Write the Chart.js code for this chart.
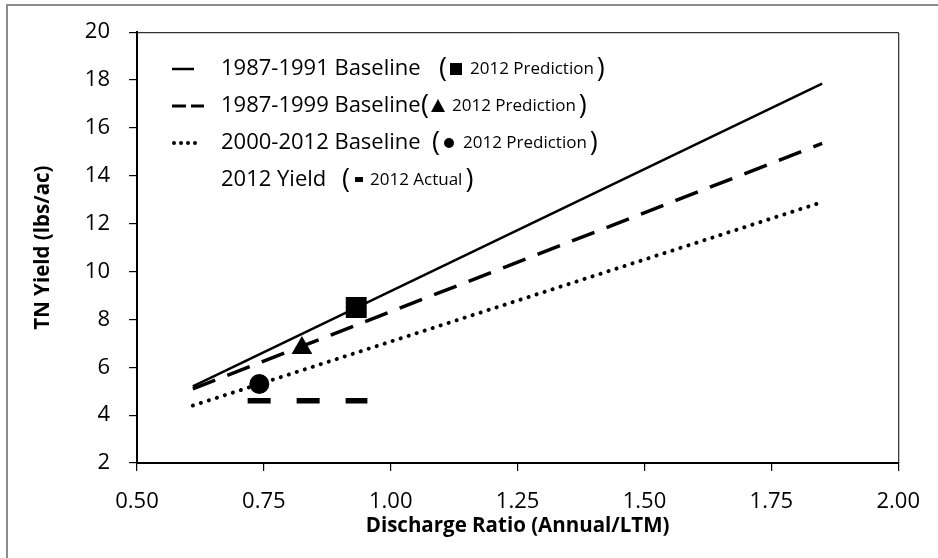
<!DOCTYPE html>
<html>
<head>
<meta charset="utf-8">
<script src="https://cdn.jsdelivr.net/npm/chart.js@4.4.1/dist/chart.umd.min.js"></script>
<style>
  html, body { margin: 0; padding: 0; background: #fff; }
</style>
</head>
<body>
<canvas id="mycanvas" width="938" height="558"></canvas>
<script>
// chart values
var legendNames = ['1987-1991 Baseline', '1987-1999 Baseline', '2000-2012 Baseline', '2012 Yield'];
var legendNotes = ['2012 Prediction', '2012 Prediction', '2012 Prediction', '2012 Actual'];

var baseX = [0.61, 1.85];
var base8791 = [5.2, 17.85];
var base8799 = [5.1, 15.35];
var base0012 = [4.4, 12.9];

var actualX = [0.718, 0.954];
var actualY = [4.6, 4.6];

var predX = [0.932, 0.825, 0.741];
var predY = [8.5, 6.8, 5.3];

var xTicks = [0.5, 0.75, 1.0, 1.25, 1.5, 1.75, 2.0];
var yTicks = [2, 4, 6, 8, 10, 12, 14, 16, 18, 20];

function pts(xs, ys) {
	var out = [];
	for (var i in xs) out.push({x: xs[i], y: ys[i]});
	return out;
}

var FONT = "'Open Sans', 'Liberation Sans', sans-serif";

// frame, plot box and the hand made legend
var decor = {
	id: 'decor',
	beforeDraw: function(chart) {
		var ctx = chart.ctx;
		ctx.save();
		ctx.fillStyle = '#fff';
		ctx.fillRect(0, 0, chart.width, chart.height);
		ctx.strokeStyle = '#8c8c8c';
		ctx.lineWidth = 2;
		ctx.strokeRect(7, 5, 960, 600);
		ctx.restore();
	},
	afterDraw: function(chart) {
		var ctx = chart.ctx;
		var a = chart.chartArea;
		ctx.save();
		ctx.strokeStyle = '#000';
		ctx.lineWidth = 1;
		ctx.beginPath();
		ctx.moveTo(a.left, a.top + 0.5);
		ctx.lineTo(a.right + 0.5, a.top + 0.5);
		ctx.lineTo(a.right + 0.5, a.bottom);
		ctx.stroke();

		var rowY = [69, 106, 143, 180];
		var parenX = [439, 421, 432, 342];
		ctx.fillStyle = '#000';
		ctx.textBaseline = 'middle';
		for (var i = 0; i < 4; i++) {
			var y = rowY[i];
			// line sample
			ctx.beginPath();
			if (i == 0) {
				ctx.lineWidth = 2.5;
				ctx.moveTo(172, y); ctx.lineTo(194, y);
				ctx.stroke();
			} else if (i == 1) {
				ctx.lineWidth = 3;
				ctx.moveTo(172, y); ctx.lineTo(186, y);
				ctx.moveTo(191, y); ctx.lineTo(204, y);
				ctx.stroke();
			} else if (i == 2) {
				for (var d = 0; d < 4; d++) {
					ctx.moveTo(176 + d * 7, y);
					ctx.arc(174 + d * 7, y, 2, 0, Math.PI * 2);
				}
				ctx.fill();
			}
			ctx.font = '22px ' + FONT;
			ctx.textAlign = 'left';
			ctx.fillText(legendNames[i], 221, y);

			var px = parenX[i];
			ctx.font = '27px ' + FONT;
			ctx.fillText('(', px, y);
			var mx = px + 17;
			ctx.beginPath();
			if (i == 0) {
				ctx.rect(mx - 6, y - 6, 12, 12);
			} else if (i == 1) {
				ctx.moveTo(mx, y - 7);
				ctx.lineTo(mx + 7, y + 6);
				ctx.lineTo(mx - 7, y + 6);
				ctx.closePath();
			} else if (i == 2) {
				ctx.arc(mx, y, 5, 0, Math.PI * 2);
			} else {
				ctx.rect(mx - 4, y - 3, 8, 5);
			}
			ctx.fill();
			ctx.font = '17px ' + FONT;
			var nx = mx + (i == 3 ? 11 : 14);
			ctx.fillText(legendNotes[i], nx, y);
			var w = ctx.measureText(legendNotes[i]).width;
			ctx.font = '27px ' + FONT;
			ctx.fillText(')', nx + w + 3, y);
		}
		ctx.restore();
	}
};

var ctx = document.getElementById('mycanvas');

var chart = new Chart(ctx, {
	type: 'scatter',
	data: {
		datasets: [
			{
				label: legendNames[0],
				data: pts(baseX, base8791),
				showLine: true,
				borderColor: '#000',
				borderWidth: 2.5,
				pointRadius: 0,
				order: 2
			},
			{
				label: legendNames[1],
				data: pts(baseX, base8799),
				showLine: true,
				borderColor: '#000',
				borderWidth: 3.5,
				borderDash: [24, 13],
				pointRadius: 0,
				order: 2
			},
			{
				label: legendNames[2],
				data: pts(baseX, base0012),
				showLine: true,
				borderColor: '#000',
				borderWidth: 4,
				borderDash: [0.1, 8.3],
				borderCapStyle: 'round',
				pointRadius: 0,
				order: 2
			},
			{
				label: legendNames[3],
				data: pts(actualX, actualY),
				showLine: true,
				borderColor: '#000',
				borderWidth: 5.5,
				borderDash: [23, 26],
				pointRadius: 0,
				order: 2
			},
			{
				label: '1987-1991 ' + legendNotes[0],
				data: pts([predX[0]], [predY[0]]),
				pointStyle: 'rect',
				pointRadius: 14.8,
				backgroundColor: '#000',
				borderColor: '#000',
				borderWidth: 0,
				order: 0
			},
			{
				label: '1987-1999 ' + legendNotes[1],
				data: pts([predX[1]], [predY[1]]),
				pointStyle: 'triangle',
				pointRadius: 12,
				backgroundColor: '#000',
				borderColor: '#000',
				borderWidth: 0,
				order: 0
			},
			{
				label: '2000-2012 ' + legendNotes[2],
				data: pts([predX[2]], [predY[2]]),
				pointStyle: 'circle',
				pointRadius: 10,
				backgroundColor: '#000',
				borderColor: '#000',
				borderWidth: 0,
				order: 0
			}
		]
	},
	options: {
		responsive: false,
		animation: false,
		layout: { padding: { left: 0, top: 31, right: 31, bottom: 0 } },
		plugins: {
			legend: { display: false },
			tooltip: { enabled: false }
		},
		scales: {
			x: {
				type: 'linear',
				min: 0.5,
				max: 2.0,
				afterBuildTicks: function(s) { s.ticks = xTicks.map(function(v) { return {value: v}; }); },
				afterFit: function(s) { s.height = 95; },
				ticks: {
					color: '#000',
					font: { family: FONT, size: 22 },
					padding: 18,
					callback: function(v) { return Number(v).toFixed(2); }
				},
				grid: { drawOnChartArea: false, drawTicks: true, tickLength: 8, color: '#000', lineWidth: 1.2 },
				border: { display: true, color: '#000', width: 2 },
				title: {
					display: true,
					text: 'Discharge Ratio (Annual/LTM)',
					color: '#000',
					font: { family: FONT, size: 20.5, weight: 'bold' },
					padding: { top: 0, bottom: 19.5 }
				}
			},
			y: {
				type: 'linear',
				min: 2,
				max: 20,
				afterBuildTicks: function(s) { s.ticks = yTicks.map(function(v) { return {value: v}; }); },
				afterFit: function(s) { s.width = 137; },
				ticks: {
					color: '#000',
					font: { family: FONT, size: 22 },
					padding: 19
				},
				grid: { drawOnChartArea: false, drawTicks: true, tickLength: 8, color: '#000', lineWidth: 1.2 },
				border: { display: true, color: '#000', width: 2 },
				title: {
					display: true,
					text: 'TN Yield (lbs/ac)',
					color: '#000',
					font: { family: FONT, size: 20.5, weight: 'bold' },
					padding: { top: 31, bottom: 0 }
				}
			}
		}
	},
	plugins: [decor]
});
</script>
</body>
</html>
